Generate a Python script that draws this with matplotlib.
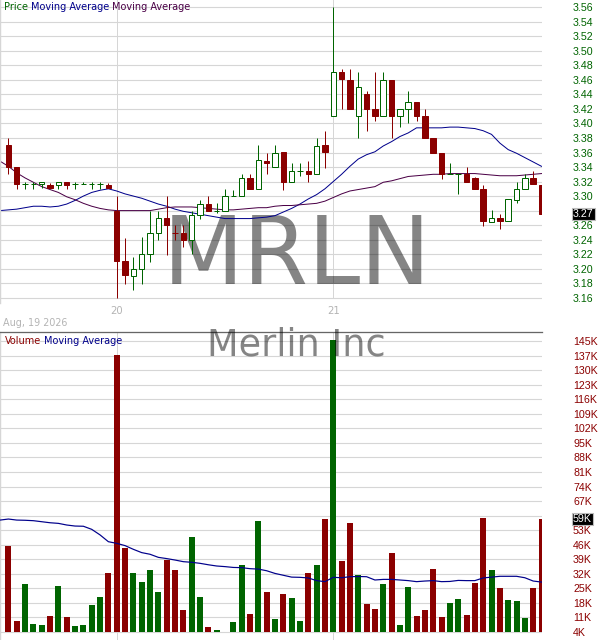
import math
import numpy as np
import matplotlib
matplotlib.use("Agg")
import matplotlib.pyplot as plt
from matplotlib.patches import Rectangle
from matplotlib.transforms import blended_transform_factory

# ---------------- data ----------------
OPEN = [3.370, 3.340, 3.316, 3.316, 3.316, 3.3155, 3.3155, 3.319, 3.316, 3.316, 3.316, 3.316, 3.3155,
        3.280, 3.210, 3.190, 3.200, 3.220, 3.249, 3.2695, 3.249, 3.249, 3.240, 3.2745, 3.2895, 3.280,
        3.280, 3.300, 3.300, 3.3245, 3.310, 3.349, 3.340, 3.361, 3.319, 3.3345, 3.3345, 3.330, 3.3705,
        3.410, 3.4705, 3.460, 3.410, 3.440, 3.420, 3.410, 3.460, 3.410, 3.420, 3.430, 3.410, 3.380,
        3.360, 3.330, 3.331, 3.331, 3.3255, 3.3095, 3.2645, 3.270, 3.265, 3.295, 3.310, 3.325, 3.315]
HIGH = [3.380, 3.340, 3.3195, 3.3195, 3.319, 3.3185, 3.319, 3.319, 3.3195, 3.3195, 3.3195, 3.3195, 3.3185,
        3.300, 3.2425, 3.2155, 3.2435, 3.280, 3.280, 3.300, 3.260, 3.260, 3.280, 3.294, 3.300, 3.290,
        3.3095, 3.309, 3.3305, 3.330, 3.3705, 3.360, 3.3705, 3.361, 3.3455, 3.345, 3.349, 3.380, 3.390,
        3.560, 3.4745, 3.4745, 3.4705, 3.4445, 3.4705, 3.471, 3.460, 3.420, 3.4445, 3.430, 3.420, 3.380,
        3.360, 3.345, 3.331, 3.3405, 3.326, 3.315, 3.2805, 3.2755, 3.2955, 3.320, 3.330, 3.335, 3.315]
LOW = [3.330, 3.3095, 3.3095, 3.3095, 3.3105, 3.3105, 3.3095, 3.3095, 3.3095, 3.316, 3.3095, 3.3095, 3.3105,
       3.160, 3.179, 3.170, 3.179, 3.2085, 3.2395, 3.2195, 3.240, 3.2305, 3.220, 3.269, 3.280, 3.2765,
       3.280, 3.2995, 3.2995, 3.310, 3.310, 3.330, 3.340, 3.309, 3.319, 3.328, 3.319, 3.330, 3.339,
       3.410, 3.420, 3.420, 3.380, 3.389, 3.404, 3.410, 3.380, 3.395, 3.400, 3.404, 3.380, 3.360,
       3.3235, 3.330, 3.3035, 3.320, 3.310, 3.259, 3.2645, 3.254, 3.265, 3.290, 3.310, 3.316, 3.259]
CLOSE = [3.340, 3.316, 3.316, 3.316, 3.319, 3.3105, 3.319, 3.3155, 3.316, 3.316, 3.316, 3.316, 3.3105,
         3.210, 3.191, 3.200, 3.220, 3.249, 3.2695, 3.2605, 3.2485, 3.240, 3.2745, 3.2895, 3.280, 3.280,
         3.2995, 3.3005, 3.3245, 3.310, 3.3495, 3.346, 3.360, 3.320, 3.334, 3.3345, 3.331, 3.3695, 3.361,
         3.4705, 3.461, 3.420, 3.450, 3.420, 3.410, 3.460, 3.410, 3.420, 3.430, 3.410, 3.380, 3.360,
         3.330, 3.330, 3.331, 3.320, 3.310, 3.265, 3.270, 3.266, 3.2955, 3.310, 3.325, 3.316, 3.2755]
VOLUME_K = [45.6, 9.2, 27.1, 7.7, 7.2, 11.6, 26.2, 11.1, 6.8, 7.2, 17.0, 21.0, 32.5,
            138.4, 44.6, 32.5, 28.1, 34.0, 23.3, 38.8, 34.0, 14.5, 50.0, 21.0, 6.3, 4.8,
            4.0, 8.7, 36.4, 12.6, 57.7, 23.3, 10.2, 22.3, 20.4, 9.2, 32.5, 36.4, 58.7,
            145.5, 38.3, 56.8, 31.5, 17.4, 15.0, 27.1, 42.2, 7.2, 25.7, 11.6, 14.5, 34.4,
            11.1, 17.9, 19.9, 12.1, 27.6, 59.2, 34.0, 25.2, 19.4, 18.9, 10.6, 25.2, 58.7]
# moving averages, first value is one slot before the first candle
MA_FAST = [3.280, 3.281, 3.282, 3.284, 3.286, 3.286, 3.285, 3.286, 3.289, 3.294,
           3.300, 3.305, 3.308, 3.310, 3.307, 3.303, 3.300, 3.297, 3.293, 3.289,
           3.286, 3.282, 3.279, 3.277, 3.275, 3.273, 3.271, 3.269, 3.269, 3.269,
           3.269, 3.270, 3.271, 3.273, 3.278, 3.283, 3.289, 3.296, 3.302, 3.310,
           3.320, 3.330, 3.341, 3.351, 3.357, 3.361, 3.369, 3.375, 3.382, 3.387,
           3.394, 3.394, 3.394, 3.394, 3.395, 3.395, 3.394, 3.393, 3.390, 3.385,
           3.373, 3.364, 3.359, 3.353, 3.347, 3.341]
MA_SLOW = [3.348, 3.341, 3.332, 3.325, 3.319, 3.313, 3.309, 3.305, 3.299, 3.295,
           3.290, 3.286, 3.283, 3.281, 3.280, 3.280, 3.280, 3.280, 3.280, 3.282,
           3.284, 3.285, 3.285, 3.285, 3.284, 3.283, 3.282, 3.281, 3.281, 3.282,
           3.283, 3.284, 3.284, 3.286, 3.287, 3.287, 3.288, 3.289, 3.290, 3.293,
           3.298, 3.303, 3.307, 3.309, 3.311, 3.313, 3.319, 3.321, 3.324, 3.327,
           3.328, 3.329, 3.330, 3.330, 3.331, 3.331, 3.331, 3.331, 3.330, 3.329,
           3.328, 3.328, 3.328, 3.329, 3.330, 3.331]
VOL_MA_K = [58.2, 58.7, 58.2, 58.1, 57.9, 57.4, 56.9, 56.6, 55.8, 55.3,
            55.2, 53.7, 51.0, 47.7, 46.9, 45.8, 44.0, 42.4, 41.6, 40.1,
            39.5, 38.8, 38.0, 37.7, 37.2, 36.5, 35.9, 35.6, 35.2, 35.1,
            34.6, 34.4, 33.6, 32.3, 31.4, 30.5, 30.4, 30.1, 28.8, 28.3,
            30.4, 30.2, 30.7, 30.8, 30.7, 29.1, 29.4, 29.4, 29.1, 28.8,
            28.3, 28.6, 28.8, 28.3, 28.4, 28.9, 28.8, 28.8, 30.1, 30.5,
            30.9, 30.9, 30.9, 30.2, 28.6, 28.1]
PRICE_TICKS = [3.16, 3.18, 3.20, 3.22, 3.24, 3.26, 3.28, 3.30, 3.32, 3.34, 3.36,
               3.38, 3.40, 3.42, 3.44, 3.46, 3.48, 3.50, 3.52, 3.54, 3.56]
VOL_TICKS_K = [4.0, 11.05, 18.1, 25.15, 32.2, 39.25, 46.3, 53.35, 60.4, 67.45, 74.5,
               81.55, 88.6, 95.65, 102.7, 109.75, 116.8, 123.85, 130.9, 137.95, 145.0]
DAY_LABELS = ["20", "21"]
DAY_START = [13, 39]
DATE_LABEL = "Aug, 19 2026"
TICKER = "MRLN"
COMPANY = "Merlin Inc"

# ---------------- style ----------------
W, H = 600, 640
GREEN = "#006400"
RED = "#8b0000"
NAVY = "#00008b"
PURPLE = "#4a0046"
GRID = "#d6d6d6"
LABEL_GRAY = "#b4b4b4"
PX = 72 / 100  # points per pixel

n = len(CLOSE)
idx = np.arange(n)
ma_x = np.arange(-1, n)

fig = plt.figure(figsize=(W / 100, H / 100), dpi=100)
fig.patch.set_facecolor("white")

PLOT_R = 542
ax1 = fig.add_axes([0, 1 - 303 / H, PLOT_R / W, 303 / H])
ax2 = fig.add_axes([0, 0, PLOT_R / W, (H - 332.3) / H])

XL = (-1.01, 64.06)
for ax in (ax1, ax2):
    ax.set_xlim(*XL)
    ax.set_xticks([])
    for s in ("right", "bottom", "top"):
        ax.spines[s].set_visible(False)
    ax.spines["left"].set_color(GRID)
    ax.spines["left"].set_linewidth(1.0)
    ax.set_facecolor("white")
    ax.yaxis.tick_right()
    ax.tick_params(axis="y", length=0, pad=31 * PX, labelsize=7.7)
    ax.grid(axis="y", color=GRID, lw=1.0 * PX * 1.1, zorder=0)
    ax.set_axisbelow(True)

ax2.spines["top"].set_visible(True)
ax2.spines["top"].set_color("#666666")
ax2.spines["top"].set_linewidth(1.3 * PX)

# price axis
ax1.set_ylim(3.1527, 3.5701)
last = CLOSE[-1]
ax1.set_yticks(PRICE_TICKS)
ax1.set_yticklabels(["" if abs(t - last) < 0.012 else f"{t:.2f}" for t in PRICE_TICKS],
                    color=GREEN, family="Liberation Sans")

# volume axis (in K)
ax2.set_ylim(-0.03, 149.37)
last_v = VOLUME_K[-1]
ax2.set_yticks(VOL_TICKS_K)
ax2.set_yticklabels(["" if abs(t - last_v) < 5 else f"{int(math.floor(t))}K" for t in VOL_TICKS_K],
                    color=RED, family="Liberation Sans")

# day separators
for d in DAY_START:
    ax1.axvline(d, ymin=(303 - 298) / 303, ymax=1, color=GRID, lw=1.0 * PX, zorder=0.6)
    ax2.axvline(d, color=GRID, lw=1.0 * PX, zorder=0.6)

# watermarks
ax1.text(296.7 / PLOT_R, (303 - 284.3) / 303, TICKER, transform=ax1.transAxes,
         ha="center", va="baseline", fontsize=67.5, color="black", alpha=0.48,
         family="DejaVu Sans", zorder=1)
fig.text(296.7 / W, 1 - 355 / H, COMPANY, ha="center", va="baseline", fontsize=26.4,
         color="black", alpha=0.48, family="DejaVu Sans", zorder=10)

# moving averages
ax1.plot(ma_x, MA_FAST, color=NAVY, lw=1.0 * PX, zorder=2)
ax1.plot(ma_x, MA_SLOW, color=PURPLE, lw=1.0 * PX, zorder=2)
ax2.plot(ma_x, VOL_MA_K, color=NAVY, lw=1.2 * PX, zorder=3)

# candles
bw = 0.66
for i in idx:
    o, h, l, c = OPEN[i], HIGH[i], LOW[i], CLOSE[i]
    up = c >= o
    col = GREEN if up else RED
    ax1.vlines(i, l, h, color=col, lw=1.0 * PX, zorder=3)
    ax1.add_patch(Rectangle((i - bw / 2, min(o, c)), bw, abs(c - o),
                            facecolor="white" if up else RED, edgecolor=col,
                            lw=1.0 * PX, zorder=4))

# volume bars (start at the lowest tick)
base = VOL_TICKS_K[0]
vcols = [GREEN if CLOSE[i] >= OPEN[i] else RED for i in idx]
ax2.bar(idx, np.array(VOLUME_K) - base, bottom=base, width=0.72, color=vcols,
        linewidth=0, zorder=2)

# last value boxes
ax1.text(573 / PLOT_R, last, f"{math.floor(last * 100) / 100:.2f}",
         transform=ax1.get_yaxis_transform(), ha="left", va="center", fontsize=7.7,
         color="white", family="Liberation Sans", clip_on=False, zorder=20,
         bbox=dict(boxstyle="square,pad=0.12", facecolor="black", edgecolor="#bbbbbb", lw=0.8))
ax2.text(573 / PLOT_R, last_v, f"{round(last_v)}K",
         transform=ax2.get_yaxis_transform(), ha="left", va="center", fontsize=7.7,
         color="white", family="Liberation Sans", clip_on=False, zorder=20,
         bbox=dict(boxstyle="square,pad=0.12", facecolor="black", edgecolor="#bbbbbb", lw=0.8))

# day labels and date
tr = blended_transform_factory(ax1.transData, fig.transFigure)
for d, lab in zip(DAY_START, DAY_LABELS):
    fig.text(d, 1 - 311 / H, lab, transform=tr, ha="center", va="center",
             fontsize=7.2, color=LABEL_GRAY, family="DejaVu Sans")
fig.text(3 / W, 1 - 323.5 / H, DATE_LABEL, ha="left", va="center", fontsize=6.9,
         color=LABEL_GRAY, family="DejaVu Sans")

# coloured headers
renderer = fig.canvas.get_renderer()


def header(x_px, y_px, parts, size=7.0):
    x = x_px
    space = 0.318 * size / PX
    for s, c in parts:
        t = fig.text(x / W, 1 - y_px / H, s, ha="left", va="center", fontsize=size,
                     color=c, family="DejaVu Sans", zorder=30)
        x += t.get_window_extent(renderer).width + space


header(4, 6.8, [("Price", GREEN), ("Moving Average", NAVY), ("Moving Average", PURPLE)])
header(5, 341.5, [("Volume", RED), ("Moving Average", NAVY)])

fig.savefig("out.png", dpi=100, facecolor="white")
